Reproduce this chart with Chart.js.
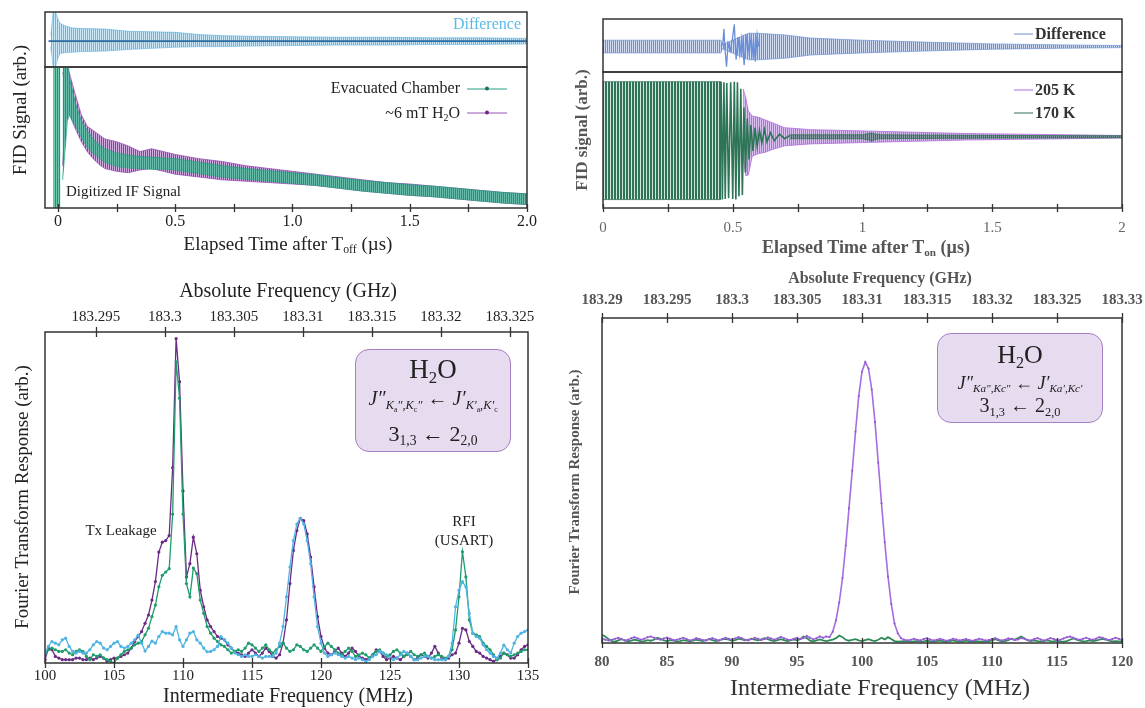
<!DOCTYPE html>
<html>
<head>
<meta charset="utf-8">
<script src="https://cdn.jsdelivr.net/npm/chart.js@4.4.0/dist/chart.umd.min.js"></script>
<style>
  body { margin: 0; background: #fff; }
  #page { position: relative; width: 1145px; height: 708px; overflow: hidden;
          font-family: 'Liberation Serif', 'DejaVu Serif', serif; color: #222; }
  canvas { position: absolute; }
  .t { position: absolute; white-space: nowrap; line-height: 1; }
  .c { transform: translate(-50%, -50%); }
  .r { transform: translate(-100%, -50%); }
  .l { transform: translate(0, -50%); }
  .v { transform: translate(-50%, -50%) rotate(-90deg); }
  sub { font-size: 0.62em; vertical-align: -0.3em; line-height: 0; }
  .box { position: absolute; border-radius: 14px; background: #e6dbef; border: 1.5px solid #a57fc2; box-sizing: border-box; }
  .box div { position: absolute; left: 0; right: 0; text-align: center; line-height: 1; transform: translateY(-50%); white-space: nowrap; }
  .key { position: absolute; height: 0; border-top: 1.5px solid; transform: translateY(-50%); }
  .key i { position: absolute; left: 50%; top: -3px; width: 4px; height: 4px; margin-left: -2px; border-radius: 2px; }
</style>
</head>
<body>
<div id="page">
  <canvas id="tlDiff"></canvas>
  <canvas id="tlMain"></canvas>
  <canvas id="trDiff"></canvas>
  <canvas id="trMain"></canvas>
  <canvas id="bl"></canvas>
  <canvas id="br"></canvas>

  <!-- top left texts -->
  <div class="t r" style="left:521px;top:24px;font-size:16px;color:#5cbbe6">Difference</div>
  <div class="t r" style="left:460px;top:88px;font-size:16px">Evacuated Chamber</div>
  <div class="key" style="left:467px;top:89px;width:40px;border-color:#2a9d84"><i style="background:#1d6e5c"></i></div>
  <div class="t r" style="left:460px;top:113px;font-size:16px">~6 mT H<sub>2</sub>O</div>
  <div class="key" style="left:467px;top:113px;width:40px;border-color:#9a52b8"><i style="background:#6b2a84"></i></div>
  <div class="t l" style="left:66px;top:191px;font-size:15px">Digitized IF Signal</div>
  <div class="t c" style="left:288px;top:243px;font-size:19px">Elapsed Time after T<sub>off</sub> (µs)</div>
  <div class="t v" style="left:19px;top:110px;font-size:19px">FID Signal (arb.)</div>

  <!-- top right texts -->
  <div class="key" style="left:1014px;top:34px;width:19px;border-color:#6a8fd8"></div>
  <div class="t l" style="left:1035px;top:34px;font-size:16px;font-weight:bold;color:#333">Difference</div>
  <div class="key" style="left:1014px;top:90px;width:19px;border-color:#b070e0"></div>
  <div class="t l" style="left:1035px;top:90px;font-size:16px;font-weight:bold;color:#333">205 K</div>
  <div class="key" style="left:1014px;top:113px;width:19px;border-color:#2e7557"></div>
  <div class="t l" style="left:1035px;top:113px;font-size:16px;font-weight:bold;color:#333">170 K</div>
  <div class="t c" style="left:866px;top:247px;font-size:18px;font-weight:bold;color:#555">Elapsed Time after T<sub>on</sub> (µs)</div>
  <div class="t v" style="left:581px;top:130px;font-size:17px;font-weight:bold;color:#555">FID signal (arb.)</div>

  <!-- bottom left texts -->
  <div class="t c" style="left:288px;top:290px;font-size:20px">Absolute Frequency (GHz)</div>
  <div class="t c" style="left:288px;top:695px;font-size:20px">Intermediate Frequency (MHz)</div>
  <div class="t v" style="left:21px;top:497px;font-size:19px">Fourier Transform Response (arb.)</div>
  <div class="t c" style="left:121px;top:530px;font-size:15px">Tx Leakage</div>
  <div class="t c" style="left:464px;top:521px;font-size:15px">RFI</div>
  <div class="t c" style="left:464px;top:540px;font-size:15px">(USART)</div>
  <div class="box" style="left:355px;top:349px;width:156px;height:103px">
    <div style="top:19px;font-size:27px">H<sub>2</sub>O</div>
    <div style="top:49px;font-size:20px"><i>J″</i><sub><i>K</i><sub>a</sub><i>″</i>,<i>K</i><sub>c</sub><i>″</i></sub> ← <i>J′</i><sub><i>K′</i><sub>a</sub>,<i>K′</i><sub>c</sub></sub></div>
    <div style="top:84px;font-size:22px">3<sub>1,3</sub> ← 2<sub>2,0</sub></div>
  </div>

  <!-- bottom right texts -->
  <div class="t c" style="left:880px;top:278px;font-size:16px;font-weight:bold;color:#555">Absolute Frequency (GHz)</div>
  <div class="t c" style="left:880px;top:687px;font-size:24px;color:#333">Intermediate Frequency (MHz)</div>
  <div class="t v" style="left:574px;top:482px;font-size:15px;font-weight:bold;color:#555">Fourier Transform Response (arb.)</div>
  <div class="box" style="left:937px;top:333px;width:166px;height:90px">
    <div style="top:21px;font-size:26px">H<sub>2</sub>O</div>
    <div style="top:49px;font-size:18px"><i>J″<sub>Ka″,Kc″</sub></i> ← <i>J′<sub>Ka′,Kc′</sub></i></div>
    <div style="top:71px;font-size:20px">3<sub>1,3</sub> ← 2<sub>2,0</sub></div>
  </div>
</div>

<script>
// ---------- top left: FID after T_off ----------
const TL_X_TICKS = [0, 0.25, 0.5, 0.75, 1, 1.25, 1.5, 1.75, 2];
const TL_X_LABELS = ['0', '', '0.5', '', '1.0', '', '1.5', '', '2.0'];

const TL_T = [-0.02, 0.011, 0.012, 0.02, 0.03, 0.04, 0.05, 0.075, 0.1, 0.125,
  0.15, 0.175, 0.2, 0.25, 0.3, 0.35, 0.4, 0.45, 0.5, 0.6,
  0.7, 0.8, 0.9, 1.0, 1.1, 1.2, 1.3, 1.4, 1.5, 1.6,
  1.7, 1.8, 1.9, 2.0];
const TL_GREEN_HI = [110, 110, null, 110, 110, 110, 92, 74, 62, 55,
  49, 45, 42, 39, 37.5, 36.5, 36, 35.5, 35, 32.5,
  30, 28, 26.5, 25, 23.5, 21.5, 19.5, 18, 16.5, 15.5,
  14, 12.5, 11, 10];
const TL_GREEN_LO = [-10, -10, null, 20, 40, 62, 66, 58, 50, 43,
  39, 35.5, 32.5, 29.5, 28.5, 28, 27.5, 27.5, 27, 24.5,
  22, 20.5, 19, 17.5, 16, 14, 12, 10.5, 9, 8,
  6.5, 5, 3.5, 2.5];
const TL_PURPLE_HI = [null, null, null, 95, 100, 100, 95, 80, 66, 58,
  55, 52, 49, 47, 44, 40, 42, 40, 38, 35,
  33, 30, 28, 26, 24, 22, 20, 18, 17, 15.5,
  14, 12.5, 11, 10];
const TL_PURPLE_LO = [null, null, null, 30, 55, 70, 66, 56, 47, 40,
  35, 31, 28, 26, 25, 27, 28, 26, 24, 22,
  20, 19, 18, 17, 16, 14, 12, 10.5, 9, 8,
  6.5, 5, 3.5, 2.5];

const TL_DIFF_T = [-0.03, -0.02, -0.01, 0, 0.01, 0.03, 0.06, 0.1, 0.2, 0.3, 0.4,
  0.5, 0.6, 0.7, 0.8, 1.0, 1.2, 1.4, 1.6, 1.8, 2.0];
const TL_DIFF_HI = [10, 55, 53, 40, 32, 28, 24, 23, 22, 18, 17, 16, 12, 10, 9, 8, 7, 7, 6, 6, 5];
const TL_DIFF_LO = [-10, -47, -47, -30, -22, -21, -20, -19, -18, -15, -13, -11, -10, -10, -9, -8, -7, -7, -6, -6, -5];
const TL_DIFF_BASE_T = [-0.04, 2.0];
const TL_DIFF_BASE = [0, 0];

// ---------- top right: FID after T_on ----------
const TR_X_TICKS = [0, 0.25, 0.5, 0.75, 1, 1.25, 1.5, 1.75, 2];
const TR_X_LABELS = ['0', '', '0.5', '', '1', '', '1.5', '', '2'];

const TR_BLOCK_T = [0, 0.455];
const TR_BLOCK_HI = [85, 85];
const TR_BLOCK_LO = [-97, -97];
const TR_SLOW_T = [0.455, 0.46, 0.466, 0.471, 0.477, 0.484, 0.492, 0.5, 0.506, 0.512, 0.518,
  0.524, 0.531, 0.537, 0.543, 0.549, 0.556, 0.563, 0.57, 0.578, 0.586,
  0.594, 0.603, 0.612, 0.622, 0.632, 0.645, 0.66, 0.68, 0.7, 0.72];
const TR_SLOW_V = [85, -97, 84, -96, 83, -95, 84, -96, 85, -97, 84,
  -92, 74, -90, 45, -55, 28, -35, 18, -22, 14,
  -15, 10, -10, 11, -8, 6, -6, 4, -3, 2];
const TR_GTAIL_T = [0.72, 1.0, 1.025, 1.035, 1.05, 1.07, 1.5, 2.0];
const TR_GTAIL_HI = [3, 3, 5, 6, 4, 3, 2, 1.5];
const TR_GTAIL_LO = [-3, -3, -5, -7, -4, -3, -2, -1.5];
const TR_PURPLE_T = [0.54, 0.55, 0.56, 0.575, 0.6, 0.625, 0.65, 0.7, 0.8, 0.9, 1.0, 1.2, 1.4, 1.6, 1.8, 2.0];
const TR_PURPLE_HI = [74, 60, 40, 32, 30, 26, 22, 14, 11, 10, 9, 7, 5, 4, 3, 2];
const TR_PURPLE_LO = [-30, -60, -59, -30, -26, -24, -20, -14, -11, -10, -9, -7, -5, -4, -3, -2];

const TR_DIFF_T = [0, 0.455, 0.46, 0.56, 0.6, 0.7, 0.8, 1.0, 1.2, 1.5, 1.8, 2.0];
const TR_DIFF_HI = [12, 12, 4, 25, 25, 22, 16, 12, 9, 5, 3, 2];
const TR_DIFF_LO = [-12, -12, -4, -25, -25, -22, -16, -12, -9, -5, -3, -2];
const TR_SPIKE_T = [0.455, 0.462, 0.466, 0.47, 0.476, 0.482, 0.49, 0.498, 0.506, 0.51, 0.513, 0.52,
  0.527, 0.535, 0.544, 0.551, 0.558, 0.566, 0.574, 0.58, 0.587, 0.594, 0.6];
const TR_SPIKE_V = [0, 6, 33, -5, -38, 6, -8, 12, 42, 0, -25, 18,
  -15, 16, -35, 22, -14, 18, -16, 14, -28, 22, 0];

// ---------- bottom left: FT, 100-135 MHz, 0.25 MHz bins ----------
const BL_F0 = 100, BL_DF = 0.25;
const BL_X_TICKS = [100, 105, 110, 115, 120, 125, 130, 135];
const BL_TOP_TICKS = [183.295, 183.3, 183.305, 183.31, 183.315, 183.32, 183.325];
const BL_TOP_LABELS = ['183.295', '183.3', '183.305', '183.31', '183.315', '183.32', '183.325'];
const BL_ABS_OFFSET = 183.19132; // GHz at 0 MHz IF
const BL_PURPLE = [
  1, 4.5, 4, 2,   1.5, 1, 1, 1,   1, 1.5, 1.5, 1,   1, 1.5, 1, 1.5,   2, 1.5, 0.5, 1,
  1.5, 1.5, 2, 2.5,   3, 4.5, 6.5, 8,   9.5, 12, 14.5, 19,   24.6, 33.5, 36.5, 37,   38.5, 59, 98, 85,
  52, 26, 30, 38,   33, 22, 17, 13,   11, 9.5, 8, 7.5,   7, 5.5, 4.5, 3.5,   3, 2.5, 2, 3,
  4, 3, 2, 3,   4.5, 3.5, 2, 1.5,   2.5, 6, 13, 24,   34, 40, 43.7, 43,   39, 32, 23, 14,
  8, 4.5, 3, 2.5,   3.5, 4.5, 3, 2,   3, 4.5, 3.5, 2,   1.5, 1, 1.5, 2.5,   4, 3.5, 2, 1,
  1.5, 2, 1.5, 1,   2, 3, 2, 1,   1.5, 2.5, 2, 1.5,   3, 5, 3, 1.5,   1, 1.5, 2.5, 3,
  6, 10.5, 10, 6.5,   5, 3.5, 3, 2,   1.5, 1, 0.5, 1,   2, 3, 2.5, 1.5,   1.5, 2.5, 4, 5,
  5.5];
const BL_GREEN = [
  2.5, 4, 4.5, 4,   3.5, 3.5, 4, 3,   2.5, 3.5, 4, 3.5,   2, 1, 2.5, 2,   2.5, 1.5, 1, 0.5,
  0, 1.5, 2.5, 3.5,   4, 4.5, 5.5, 6,   6.5, 8.5, 10.5, 14,   17.5, 23, 26.5, 27.5,   28.5, 45, 91, 80,
  45, 24, 20, 28.7,   27, 19, 15, 11,   9, 7.5, 6.5, 5.5,   5, 4, 3, 3.5,   4, 3.5, 4.5, 6,
  5.5, 4.5, 3.5, 4.5,   5.5, 4, 3, 4,   5, 6, 4.5, 3.5,   4, 5.5, 5, 4,   3.5, 4.5, 5.5, 4.5,
  3.5, 5, 6, 5,   4, 3, 2.5, 3.5,   4.5, 3.5, 2, 2.5,   3, 2.5, 1.5, 2.5,   3.5, 4, 3, 2,
  2.5, 3.5, 4, 3,   2, 2.5, 3.5, 2.5,   2, 2.5, 3, 2,   1.5, 2, 2.5, 2,   1.5, 2, 4, 10,
  20, 33.6, 26, 13,   9, 8.5, 8, 6,   5, 4, 2.5, 1,   1.5, 3, 2.5, 2,   2.5, 3, 3.5, 4,
  4];
const BL_BLUE = [
  3, 5, 6.5, 6,   5.5, 7, 7.5, 5,   3.5, 3, 3.5, 3,   3, 4, 5.5, 6.5,   6, 4.5, 4, 5,
  6, 6.5, 5, 4.5,   5, 6, 7, 8.4,   6, 3.6, 5, 6.6,   6, 8, 9.5, 9,   9, 8.5, 11, 7,
  5, 7, 9, 9.5,   7, 6, 4.5, 3.4,   3.5, 4, 5, 8,   7, 6, 4.5, 3,   2.5, 2, 2.5, 2,
  2, 2.5, 2, 1.5,   2, 2, 2, 3,   6, 11, 20, 29,   37, 42, 43.7, 42,   37, 30, 20, 11,
  6, 3, 2, 2.5,   3, 2.5, 2, 1.5,   2, 1.5, 1, 1.5,   1, 0.5, 1, 2,   2.5, 3.5, 3, 2.5,
  1.5, 1, 1.5, 2.5,   3.5, 3, 2, 1,   1, 1.5, 2, 2,   1.5, 1, 1, 1,   1, 2, 6, 17,
  22, 24.6, 23, 15,   9, 8, 7.5, 5.5,   4, 3, 2, 1.5,   3, 5.4, 4, 3,   6, 8, 9, 9.5,
  10];

// ---------- bottom right: FT, 80-120 MHz, 0.25 MHz bins ----------
const BR_F0 = 80, BR_DF = 0.25;
const BR_X_TICKS = [80, 85, 90, 95, 100, 105, 110, 115, 120];
const BR_TOP_TICKS = [183.29, 183.295, 183.3, 183.305, 183.31, 183.315, 183.32, 183.325, 183.33];
const BR_TOP_LABELS = ['183.29', '183.295', '183.3', '183.305', '183.31', '183.315', '183.32', '183.325', '183.33'];
const BR_ABS_OFFSET = 183.21;
const BR_PURPLE = [
  1.5, 1, 0.8, 1, 1.3, 1.6, 1.2, 0.8,
  1, 1.5, 1.8, 1.4, 1, 1.3, 1.8, 2,
  1.6, 1.2, 1, 1.4, 1.7, 1.3, 0.9, 1,
  1.3, 1.6, 1.2, 0.8, 1, 1.5, 1.2, 0.9,
  0.8, 1.2, 1.5, 1.1, 0.8, 1.2, 1.6, 1.3,
  1, 1.4, 1.8, 1.5, 1, 0.8, 1.2, 1.6,
  1.3, 0.9, 1.2, 1.7, 1.4, 1, 1.4, 1.9,
  1.5, 1.1, 0.9, 1.3, 1.6, 1.2, 1.5, 2.2,
  1.6, 1.1, 1.5, 2, 1.6, 2, 1.8, 3.5,
  7, 12.5, 20, 30, 41.5, 53, 65, 76,
  83.5, 86.5, 84.5, 78, 68, 55.5, 43, 31,
  20.5, 12, 6, 3, 1.5, 1, 0.8, 1,
  1.3, 1, 0.8, 1.2, 1.5, 1.1, 0.8, 1,
  1.3, 1, 0.7, 0.9, 1.3, 1.1, 0.8, 1,
  1.2, 0.9, 0.7, 1, 1.3, 1.1, 0.8, 0.9,
  1.2, 1.5, 1.1, 0.8, 1, 1.4, 1.2, 0.9,
  1.1, 1.5, 1.3, 0.9, 0.8, 1.2, 1.5, 1.1,
  0.8, 1.1, 1.5, 1.2, 0.9, 1, 1.4, 1.8,
  2, 1.6, 1.2, 1, 1.3, 1.6, 1.2, 1,
  1.3, 1.8, 1.6, 1.2, 0.9, 1.2, 1.6, 1.3,
  0.8];
const BR_GREEN = [
  2.5, 2, 1.2, 0.6, 0.4, 0.8, 1.2, 0.8,
  0.5, 0.7, 1, 0.8, 0.5, 0.6, 0.9, 0.7,
  1, 1.6, 1.3, 0.8, 0.6, 0.9, 0.7, 0.5,
  0.6, 0.9, 0.7, 0.5, 0.7, 1, 0.8, 0.6,
  0.9, 1.2, 0.9, 0.6, 0.8, 1.1, 1.3, 1,
  0.7, 0.9, 1.3, 1.1, 0.8, 1, 1.3, 1,
  0.8, 1.1, 1.5, 1.2, 0.8, 0.6, 0.9, 1.2,
  0.9, 0.6, 0.8, 1.1, 0.8, 1.2, 2, 1.5,
  0.7, 0.5, 0.8, 1.1, 0.8, 0.6, 0.8, 1,
  1.5, 2.3, 1.8, 1, 0.7, 1, 1.2, 0.8,
  0.6, 0.9, 1.2, 0.8, 0.6, 1, 1.6, 1.1,
  1.8, 1.2, 0.6, 0.4, 0.5, 0.6, 0.5, 0.4,
  0.5, 0.6, 0.4, 0.5, 0.7, 0.5, 0.4, 0.6,
  0.7, 0.5, 0.4, 0.6, 0.8, 0.6, 0.4, 0.5,
  0.7, 0.5, 0.4, 0.6, 0.5, 0.4, 0.6, 0.5,
  0.8, 1.2, 0.8, 0.5, 0.6, 0.9, 1.3, 1,
  1.5, 2, 1.4, 0.8, 0.6, 0.8, 0.6, 0.5,
  0.6, 0.8, 0.6, 0.5, 0.7, 0.5, 0.4, 0.6,
  1, 1.4, 1, 0.7, 0.5, 0.6, 0.8, 0.6,
  0.7, 1, 1.3, 1, 0.7, 0.5, 0.6, 0.5,
  0.5];

// ---------- helpers ----------
Chart.defaults.font.family = "'Liberation Serif', 'DejaVu Serif', serif";

const pts = (xs, ys) => xs.map((x, i) => ({ x, y: ys[i] }));
const grid = (f0, df, n) => Array.from({ length: n }, (_, i) => +(f0 + i * df).toFixed(3));

function stripes(a, b, wa, wb) {
  const c = document.createElement('canvas');
  c.width = wa + wb; c.height = 1;
  const g = c.getContext('2d');
  g.fillStyle = a; g.fillRect(0, 0, wa, 1);
  g.fillStyle = b; g.fillRect(wa, 0, wb, 1);
  return g.createPattern(c, 'repeat');
}

function band(xs, hi, lo, line, fill, order) {
  const common = { borderColor: line, borderWidth: 0.8, pointRadius: 0, order };
  return [
    { ...common, data: pts(xs, hi), fill: '+1', backgroundColor: fill },
    { ...common, data: pts(xs, lo), fill: false }
  ];
}

function xAxis(min, max, vals, labels, font, color, pad, h, pos) {
  return {
    type: 'linear', position: pos || 'bottom', min, max,
    grid: { display: false, drawTicks: false }, border: { display: false },
    ticks: { font, color, padding: pad, autoSkip: false, maxRotation: 0, minRotation: 0,
      callback: (v, i) => labels[i] },
    afterBuildTicks: s => { s.ticks = vals.map(v => ({ value: v })); },
    afterFit: s => { s.height = h; s.paddingLeft = 0; s.paddingRight = 0; }
  };
}
const hidden = (min, max) => ({ type: 'linear', display: false, min, max });

// box around the plot area + tick marks crossing the axis line
const frame = {
  id: 'frame',
  afterDatasetsDraw(chart, args, o) {
    const { ctx, chartArea: a } = chart;
    ctx.save();
    ctx.strokeStyle = o.color || '#333';
    ctx.lineWidth = 1.5;
    ctx.strokeRect(a.left, a.top, a.right - a.left, a.bottom - a.top);
    ctx.lineWidth = 1.3;
    (o.ticks || []).forEach(t => {
      const s = chart.scales[t.id];
      const y = s.position === 'top' ? a.top : a.bottom;
      s.ticks.forEach(tk => {
        const x = Math.round(s.getPixelForValue(tk.value)) + 0.5;
        ctx.beginPath(); ctx.moveTo(x, y - t.len); ctx.lineTo(x, y + t.len); ctx.stroke();
      });
    });
    ctx.restore();
  }
};

function mk(id, area, ext, datasets, scales, ticks) {
  const cv = document.getElementById(id);
  const w = area[2] - area[0] + ext[0] + ext[2];
  const h = area[3] - area[1] + ext[1] + ext[3];
  cv.width = w; cv.height = h;
  Object.assign(cv.style, { left: (area[0] - ext[0]) + 'px', top: (area[1] - ext[1]) + 'px',
    width: w + 'px', height: h + 'px' });
  const hasTop = !!scales.x2, hasBottom = scales.x.display !== false;
  return new Chart(cv, {
    type: 'line',
    data: { datasets },
    plugins: [frame],
    options: {
      responsive: false, animation: false, devicePixelRatio: 1,
      layout: { padding: { left: ext[0], right: ext[2], top: hasTop ? 0 : ext[1], bottom: hasBottom ? 0 : ext[3] } },
      plugins: { legend: { display: false }, tooltip: { enabled: false }, frame: { ticks } },
      elements: { line: { tension: 0 }, point: { radius: 0 } },
      scales
    }
  });
}

// ---------- top left ----------
mk('tlDiff', [45, 12, 527, 67], [8, 8, 8, 8], [
  { data: pts(TL_DIFF_BASE_T, TL_DIFF_BASE), borderColor: '#2b6ca3', borderWidth: 1.6, order: 0 },
  ...band(TL_DIFF_T, TL_DIFF_HI, TL_DIFF_LO, 'rgba(92,180,228,0.8)',
    stripes('rgba(88,176,228,0.9)', 'rgba(170,216,242,0.6)', 1, 1), 1)
], { x: hidden(-0.055, 2), y: hidden(-47, 53) }, []);

mk('tlMain', [45, 67, 527, 208], [30, 8, 30, 42], [
  ...band(TL_T, TL_GREEN_HI, TL_GREEN_LO, '#2a9d84',
    stripes('#23927b', 'rgba(84,190,160,0.85)', 1, 1), 1),
  ...band(TL_T, TL_PURPLE_HI, TL_PURPLE_LO, '#9a52b8',
    stripes('#8a3fa6', 'rgba(180,120,205,0.6)', 1, 1), 2)
], {
  x: xAxis(-0.055, 2, TL_X_TICKS, TL_X_LABELS, { size: 16 }, '#222', 4, 42),
  y: hidden(0, 100)
}, [{ id: 'x', len: 4 }]);

// ---------- top right ----------
mk('trDiff', [603, 19, 1122, 72], [8, 8, 8, 8], [
  { data: pts(TR_SPIKE_T, TR_SPIKE_V), borderColor: '#6a8fd8', borderWidth: 1.3, order: 0 },
  ...band(TR_DIFF_T, TR_DIFF_HI, TR_DIFF_LO, 'rgba(106,143,216,0.8)',
    stripes('#6a8fd8', 'rgba(106,143,216,0.3)', 1, 1), 1)
], { x: hidden(0, 2), y: hidden(-48, 52) }, []);

mk('trMain', [603, 72, 1122, 208], [22, 8, 22, 44], [
  { data: pts(TR_SLOW_T, TR_SLOW_V), borderColor: '#2e7557', borderWidth: 1.6, order: 0 },
  ...band(TR_BLOCK_T, TR_BLOCK_HI, TR_BLOCK_LO, '#2e7557',
    stripes('#2e7557', 'rgba(46,117,87,0.2)', 2, 1), 1),
  ...band(TR_GTAIL_T, TR_GTAIL_HI, TR_GTAIL_LO, '#2e7557',
    stripes('#2e7557', 'rgba(46,117,87,0.45)', 1, 1), 1),
  ...band(TR_PURPLE_T, TR_PURPLE_HI, TR_PURPLE_LO, '#b070e0',
    stripes('#b070e0', 'rgba(176,112,224,0.45)', 1, 1), 2)
], {
  x: xAxis(0, 2, TR_X_TICKS, TR_X_LABELS, { size: 15 }, '#666', 11, 44),
  y: hidden(-110, 100)
}, [{ id: 'x', len: 4 }]);

// ---------- bottom left ----------
const blF = grid(BL_F0, BL_DF, BL_PURPLE.length);
const blLine = (ys, col, order) => ({ data: pts(blF, ys), borderColor: col, backgroundColor: col,
  borderWidth: 1.3, pointRadius: 1.6, pointBorderWidth: 0, order });
mk('bl', [45, 332, 528, 663], [32, 42, 32, 40], [
  blLine(BL_BLUE, '#4fb3e3', 0),
  blLine(BL_GREEN, '#1f9c6c', 1),
  blLine(BL_PURPLE, '#6b2a84', 2)
], {
  x: xAxis(100, 135, BL_X_TICKS, BL_X_TICKS.map(String), { size: 15 }, '#222', 4, 40),
  x2: xAxis(BL_ABS_OFFSET + 0.1, BL_ABS_OFFSET + 0.135, BL_TOP_TICKS, BL_TOP_LABELS, { size: 15 }, '#222', 6, 42, 'top'),
  y: hidden(0, 100)
}, [{ id: 'x', len: 5 }, { id: 'x2', len: 5 }]);

// ---------- bottom right ----------
const brF = grid(BR_F0, BR_DF, BR_PURPLE.length);
mk('br', [602, 318, 1122, 643], [32, 42, 32, 40], [
  { data: pts(brF, BR_GREEN), borderColor: '#2e8b57', borderWidth: 1.8, order: 1 },
  { data: pts(brF, BR_PURPLE), borderColor: '#a56de2', backgroundColor: '#8d55c8', borderWidth: 1.6,
    pointRadius: 1, pointBorderWidth: 0, order: 0 }
], {
  x: xAxis(80, 120, BR_X_TICKS, BR_X_TICKS.map(String), { size: 15, weight: 'bold' }, '#555', 10, 40),
  x2: xAxis(BR_ABS_OFFSET + 0.08, BR_ABS_OFFSET + 0.12, BR_TOP_TICKS, BR_TOP_LABELS, { size: 15, weight: 'bold' }, '#555', 9, 42, 'top'),
  y: hidden(0, 100)
}, [{ id: 'x', len: 5 }, { id: 'x2', len: 5 }]);
</script>
</body>
</html>
